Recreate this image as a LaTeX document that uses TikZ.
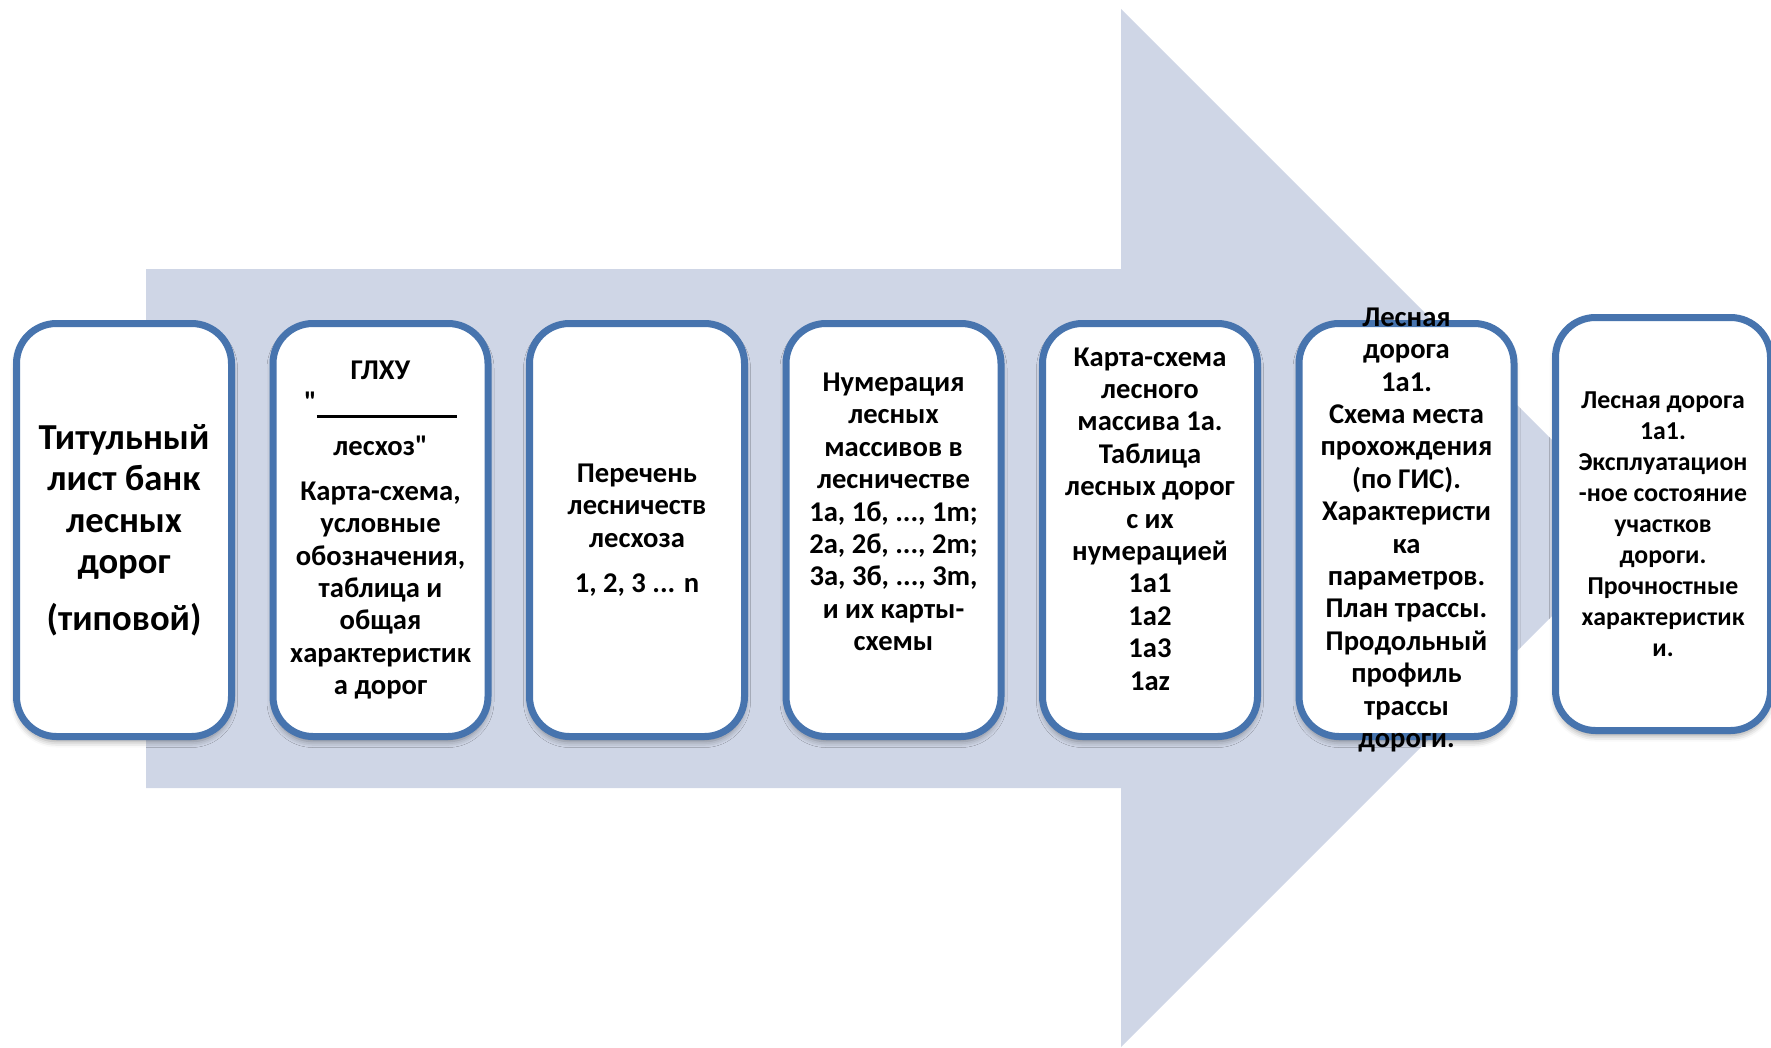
\documentclass[tikz,border=0pt]{standalone}
\usepackage{fontspec}
\setmainfont{Carlito}
\usetikzlibrary{shadows.blur}

\definecolor{arrowfill}{HTML}{CFD6E6}
\definecolor{boxline}{HTML}{4774AE}

\def \boxwidth {107.5pt}
\def \boxheight {206.5pt}
\def \liney {530}

\tikzset{
  stage/.style={draw=boxline, line width=3.5pt, fill=white, rounded corners=20pt,
    minimum width=\boxwidth, minimum height=\boxheight, inner sep=0pt,
    blur shadow={shadow xshift=0pt, shadow yshift=-2.5pt, shadow blur radius=3pt, shadow opacity=40}},
  bigtext/.style={align=center, inner sep=0pt, font=\bfseries\fontsize{18.3}{20.7}\selectfont},
  midtext/.style={align=center, inner sep=0pt, font=\bfseries\fontsize{14.3}{16.2}\selectfont},
  smalltext/.style={align=center, inner sep=0pt, font=\bfseries\fontsize{12.9}{15.5}\selectfont}
}

\begin{document}
\begin{tikzpicture}[x=0.5pt, y=-0.5pt]
\useasboundingbox (0,0) rectangle (1771,1048);
\clip (0,0) rectangle (1771,1048);

% big arrow behind
\fill[arrowfill] (146,269) -- (1121,269) -- (1121,9) -- (1640,528) -- (1121,1047) -- (1121,788) -- (146,788) -- cycle;

% boxes
\foreach \i/\x in {1/124, 2/380.5, 3/637, 4/893.5, 5/1150, 6/1406.5}
  \node[stage] (b\i) at (\x,\liney) {};
\node[stage] (b7) at (1663,\liney-6) {}; % sits a bit higher

% texts
\node[bigtext] (t1) at (b1) {Титульный\\лист банк\\лесных\\дорог\\[7.5pt](типовой)};
\node[midtext] (t2) at (b2) {ГЛХУ\\\textquotedbl\rule[-3pt]{70pt}{1.2pt}\\[6pt]лесхоз\textquotedbl\\[6pt]Карта-схема,\\условные\\обозначения,\\таблица и\\общая\\характеристик\\а дорог};
\node[midtext] (t3) at (b3) {Перечень\\лесничеств\\лесхоза\\[6.5pt]1, 2, 3 ... n};
\node[midtext] (t4) at ([yshift=9pt]b4) {Нумерация\\лесных\\массивов в\\лесничестве\\1а, 1б, ..., 1m;\\2а, 2б, ..., 2m;\\3а, 3б, ..., 3m,\\и их карты-\\схемы};
\node[midtext] (t5) at ([yshift=5.5pt]b5) {Карта-схема\\лесного\\массива 1а.\\Таблица\\лесных дорог\\с их\\нумерацией\\1а1\\1а2\\1а3\\1аz};
\node[midtext] (t6) at (b6) {Лесная\\дорога\\1а1.\\Схема места\\прохождения\\(по ГИС).\\Характеристи\\ка\\параметров.\\План трассы.\\Продольный\\профиль\\трассы\\дороги.}; % runs over the frame
\node[smalltext] (t7) at (b7) {Лесная дорога\\1а1.\\Эксплуатацион\\-ное состояние\\участков\\дороги.\\Прочностные\\характеристик\\и.};
\end{tikzpicture}
\end{document}
